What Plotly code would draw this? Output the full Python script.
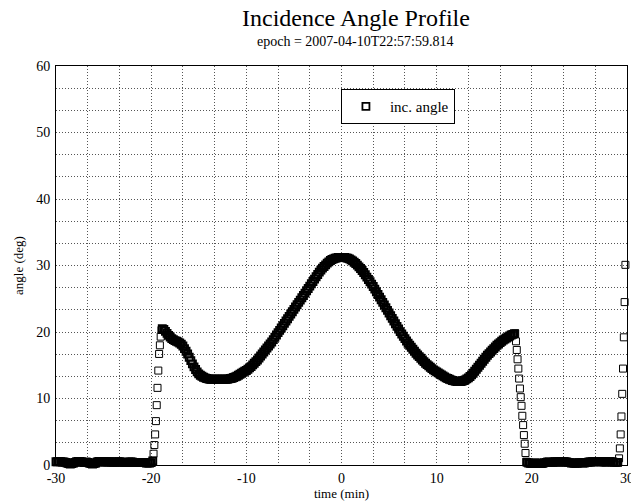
import numpy as np
import plotly.graph_objects as go

# ---- data (time in minutes relative to epoch, incidence angle in degrees) ----
# Each segment: start time (min), sample step (s), angle values
seg_start = [-30.0, -19.75, -18.8333, 18.25, 19.5, 29.0833]
seg_step_s = [10, 5, 10, 5, 10, 5]

angle_left_flat = [
    0.5, 0.5, 0.55, 0.5, 0.45, 0.45,
    0.4, 0.3, 0.2, 0.15, 0.2, 0.3,
    0.4, 0.5, 0.55, 0.55, 0.5, 0.4,
    0.35, 0.45, 0.4, 0.3, 0.2, 0.15,
    0.2, 0.3, 0.45, 0.55, 0.55, 0.5,
    0.5, 0.45, 0.45, 0.5, 0.5, 0.45,
    0.4, 0.4, 0.45, 0.5, 0.5, 0.45,
    0.4, 0.4, 0.35, 0.4, 0.45, 0.45,
    0.45, 0.4, 0.4, 0.35, 0.35, 0.4,
    0.4, 0.35, 0.35, 0.3, 0.3, 0.3,
    0.35, 0.6,
]
angle_rise = [1.7, 3.0, 4.6, 6.6, 9.0, 11.6, 14.2, 16.7, 18.0, 19.3, 20.3]
angle_main = [
    20.5, 20.4, 20.1, 19.8, 19.5,
    19.25, 19.0, 18.85, 18.7, 18.6, 18.5,
    18.35, 18.15, 17.9, 17.5, 17.1, 16.7,
    16.2, 15.7, 15.2, 14.75, 14.35, 14.0,
    13.7, 13.5, 13.35, 13.2, 13.1, 13.0,
    12.95, 12.9, 12.9, 12.9, 12.9, 12.9,
    12.9, 12.9, 12.9, 12.9, 12.9, 12.9,
    12.9, 12.95, 13.0, 13.05, 13.15, 13.25,
    13.35, 13.5, 13.65, 13.8, 13.95, 14.1,
    14.2, 14.4, 14.6, 14.8, 15.05, 15.3,
    15.55, 15.8, 16.1, 16.4, 16.7, 17.0,
    17.3, 17.6, 17.9, 18.2, 18.5, 18.85,
    19.2, 19.55, 19.9, 20.25, 20.6, 20.95,
    21.3, 21.65, 22.0, 22.35, 22.7, 23.05,
    23.4, 23.75, 24.1, 24.45, 24.8, 25.15,
    25.5, 25.85, 26.2, 26.55, 26.9, 27.25,
    27.6, 27.95, 28.3, 28.65, 29.0, 29.3,
    29.6, 29.85, 30.1, 30.35, 30.55, 30.75,
    30.9, 31.0, 31.1, 31.15, 31.2, 31.2,
    31.2, 31.2, 31.2, 31.15, 31.1, 31.0,
    30.85, 30.7, 30.5, 30.3, 30.05, 29.8,
    29.55, 29.25, 28.95, 28.6, 28.25, 27.9,
    27.55, 27.2, 26.85, 26.45, 26.05, 25.65,
    25.25, 24.85, 24.45, 24.05, 23.65, 23.25,
    22.85, 22.45, 22.05, 21.65, 21.25, 20.85,
    20.45, 20.05, 19.7, 19.35, 19.0, 18.65,
    18.3, 18.0, 17.7, 17.4, 17.1, 16.8,
    16.55, 16.3, 16.05, 15.8, 15.55, 15.3,
    15.1, 14.9, 14.7, 14.5, 14.3, 14.15,
    14.0, 13.85, 13.7, 13.55, 13.4, 13.25,
    13.1, 13.0, 12.9, 12.8, 12.7, 12.65,
    12.6, 12.55, 12.55, 12.55, 12.6, 12.7,
    12.8, 12.95, 13.1, 13.3, 13.55, 13.8,
    14.1, 14.4, 14.7, 15.0, 15.3, 15.6,
    15.9, 16.2, 16.5, 16.75, 17.0, 17.25,
    17.5, 17.75, 18.0, 18.2, 18.4, 18.6,
    18.8, 18.95, 19.1, 19.25, 19.4, 19.55,
    19.65, 19.75,
]
angle_fall = [19.8, 18.6, 17.3, 15.9, 14.5, 13.0, 11.5, 10.2, 8.9, 7.4, 6.0, 4.5, 3.2, 1.8, 0.5]
angle_right_flat = [
    0.4, 0.3, 0.25, 0.2, 0.25, 0.3,
    0.3, 0.25, 0.2, 0.2, 0.25, 0.35,
    0.4, 0.45, 0.45, 0.4, 0.4, 0.45,
    0.5, 0.5, 0.45, 0.45, 0.5, 0.5,
    0.5, 0.45, 0.4, 0.35, 0.3, 0.3,
    0.25, 0.25, 0.3, 0.35, 0.35, 0.3,
    0.3, 0.35, 0.4, 0.45, 0.45, 0.5,
    0.5, 0.5, 0.55, 0.55, 0.5, 0.5,
    0.5, 0.45, 0.45, 0.5, 0.55, 0.5,
    0.45, 0.4, 0.4, 0.4,
]
angle_end_rise = [0.4, 1.0, 2.5, 4.6, 7.3, 10.7, 14.5, 19.2, 24.5, 30.1]

x_ticks = [-30, -20, -10, 0, 10, 20, 30]
y_ticks = [0, 10, 20, 30, 40, 50, 60]

segments = [angle_left_flat, angle_rise, angle_main, angle_fall, angle_right_flat, angle_end_rise]
times, angles, edge_w = [], [], []
for start, step, vals in zip(seg_start, seg_step_s, segments):
    times.extend(start + np.arange(len(vals)) * step / 60.0)
    angles.extend(vals)
    # sparser-sampled stretches get a slightly heavier outline so the overlapping
    # squares merge into a solid band as in the original dense record
    edge_w.extend([1.9 if step == 10 else 1.0] * len(vals))

SERIF = "Liberation Serif, Times New Roman, serif"

fig = go.Figure()
fig.add_trace(go.Scatter(
    x=times, y=angles, mode="markers", name="inc. angle",
    marker=dict(symbol="square-open", size=7, color="black",
                line=dict(width=edge_w, color="black")),
    cliponaxis=False,
))

grid = dict(showgrid=True, gridcolor="#555555", gridwidth=1, griddash="1px,2px")
fig.update_xaxes(
    range=[-30, 30], tickvals=x_ticks, ticktext=[str(v) for v in x_ticks],
    showline=True, linecolor="black", linewidth=1, mirror=True,
    ticks="", zeroline=False, automargin=False, ticklabeloverflow="allow",
    minor=dict(dtick=10/3, tick0=0, **grid), **grid,
    tickfont=dict(family=SERIF, size=14, color="black"),
    title=dict(text="time (min)", font=dict(family=SERIF, size=13, color="black"), standoff=0),
)
fig.update_yaxes(
    range=[0, 60], tickvals=y_ticks, ticktext=[str(v) for v in y_ticks],
    showline=True, linecolor="black", linewidth=1, mirror=True,
    ticks="", zeroline=False, automargin=False, ticklabelstandoff=2,
    minor=dict(dtick=10/3, tick0=0, **grid), **grid,
    tickfont=dict(family=SERIF, size=14, color="black"),
    title=dict(text="angle (deg)", font=dict(family=SERIF, size=13, color="black"), standoff=9),
)

fig.update_layout(
    width=631, height=503,
    margin=dict(l=56, r=4, t=66, b=38, autoexpand=False),
    paper_bgcolor="white", plot_bgcolor="white",
    showlegend=True,
    legend=dict(x=0.499, y=0.942, xanchor="left", yanchor="top",
                bgcolor="white", bordercolor="black", borderwidth=1,
                itemwidth=38, entrywidth=70,
                font=dict(family=SERIF, size=15, color="black")),
    annotations=[
        dict(text="Incidence Angle Profile", xref="paper", yref="paper",
             x=(356 - 56) / 571, y=(465 - 18.5) / 399, xanchor="center", yanchor="middle",
             showarrow=False, font=dict(family=SERIF, size=24, color="black")),
        dict(text="epoch = 2007-04-10T22:57:59.814", xref="paper", yref="paper",
             x=(355 - 56) / 571, y=(465 - 41) / 399, xanchor="center", yanchor="middle",
             showarrow=False, font=dict(family=SERIF, size=14, color="black")),
    ],
)

# remove the default 8px page margin so the 631x503 figure fills the window exactly
fig.write_html("out.html",
               config={"displayModeBar": False},
               post_script="document.body.style.margin='0px';document.body.style.overflow='hidden';")
